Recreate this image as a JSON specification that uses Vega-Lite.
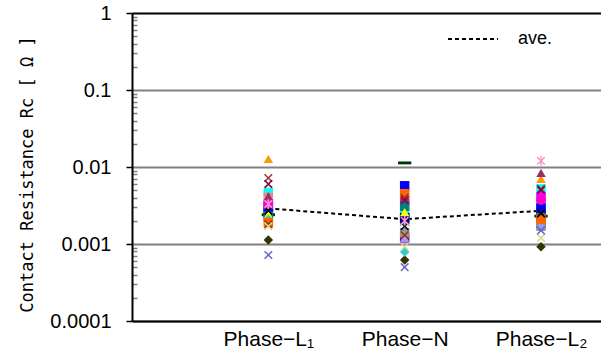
{
  "$schema": "https://vega.github.io/schema/vega-lite/v6.json",
  "width": 469,
  "height": 308,
  "autosize": {"type": "none"},
  "padding": {"left": 132, "top": 13, "right": 0, "bottom": 38},
  "background": "white",
  "config": {"view": {"stroke": null}},
  "datasets": {
    "avg": [
      {"phase": 1, "rc": 0.0029, "series": "ave."},
      {"phase": 2, "rc": 0.0021, "series": "ave."},
      {"phase": 3, "rc": 0.0027, "series": "ave."}
    ],
    "pts": [
      {"phase": 1, "specimen": "s01", "rc": 0.0127}, {"phase": 2, "specimen": "s01", "rc": 0.0046}, {"phase": 3, "specimen": "s01", "rc": 0.0070},
      {"phase": 1, "specimen": "s02", "rc": 0.0072}, {"phase": 2, "specimen": "s02", "rc": 0.0040}, {"phase": 3, "specimen": "s02", "rc": 0.0052},
      {"phase": 1, "specimen": "s03", "rc": 0.0060}, {"phase": 2, "specimen": "s03", "rc": 0.0037}, {"phase": 3, "specimen": "s03", "rc": 0.0050},
      {"phase": 1, "specimen": "s04", "rc": 0.0050}, {"phase": 2, "specimen": "s04", "rc": 0.0031}, {"phase": 3, "specimen": "s04", "rc": 0.0030},
      {"phase": 1, "specimen": "s05", "rc": 0.0046}, {"phase": 2, "specimen": "s05", "rc": 0.0025}, {"phase": 3, "specimen": "s05", "rc": 0.0052},
      {"phase": 1, "specimen": "s06", "rc": 0.0040}, {"phase": 2, "specimen": "s06", "rc": 0.0019}, {"phase": 3, "specimen": "s06", "rc": 0.0038},
      {"phase": 1, "specimen": "s07", "rc": 0.0037}, {"phase": 2, "specimen": "s07", "rc": 0.0016}, {"phase": 3, "specimen": "s07", "rc": 0.0032},
      {"phase": 1, "specimen": "s08", "rc": 0.0031}, {"phase": 2, "specimen": "s08", "rc": 0.0021}, {"phase": 3, "specimen": "s08", "rc": 0.0030},
      {"phase": 1, "specimen": "s09", "rc": 0.0028}, {"phase": 2, "specimen": "s09", "rc": 0.0024}, {"phase": 3, "specimen": "s09", "rc": 0.0017},
      {"phase": 1, "specimen": "s10", "rc": 0.0026}, {"phase": 2, "specimen": "s10", "rc": 0.0022}, {"phase": 3, "specimen": "s10", "rc": 0.0024},
      {"phase": 1, "specimen": "s11", "rc": 0.0025}, {"phase": 2, "specimen": "s11", "rc": 0.0012}, {"phase": 3, "specimen": "s11", "rc": 0.0018},
      {"phase": 1, "specimen": "s12", "rc": 0.0022}, {"phase": 2, "specimen": "s12", "rc": 0.0014}, {"phase": 3, "specimen": "s12", "rc": 0.0017},
      {"phase": 1, "specimen": "s13", "rc": 0.0018}, {"phase": 2, "specimen": "s13", "rc": 0.0013}, {"phase": 3, "specimen": "s13", "rc": 0.0025},
      {"phase": 1, "specimen": "s14", "rc": 0.0017}, {"phase": 2, "specimen": "s14", "rc": 0.00092}, {"phase": 3, "specimen": "s14", "rc": 0.0012},
      {"phase": 1, "specimen": "s15", "rc": 0.00113}, {"phase": 2, "specimen": "s15", "rc": 0.00062}, {"phase": 3, "specimen": "s15", "rc": 0.00092},
      {"phase": 1, "specimen": "s16", "rc": 0.00072}, {"phase": 2, "specimen": "s16", "rc": 0.00050}, {"phase": 3, "specimen": "s16", "rc": 0.0015},
      {"phase": 1, "specimen": "s17", "rc": 0.0024}, {"phase": 2, "specimen": "s17", "rc": 0.0113}, {"phase": 3, "specimen": "s17", "rc": 0.0023},
      {"phase": 1, "specimen": "s18", "rc": 0.0030}, {"phase": 2, "specimen": "s18", "rc": 0.0057}, {"phase": 3, "specimen": "s18", "rc": 0.0029},
      {"phase": 1, "specimen": "s19", "rc": 0.0033}, {"phase": 2, "specimen": "s19", "rc": 0.0037}, {"phase": 3, "specimen": "s19", "rc": 0.0041},
      {"phase": 1, "specimen": "s20", "rc": 0.0035}, {"phase": 2, "specimen": "s20", "rc": 0.0034}, {"phase": 3, "specimen": "s20", "rc": 0.0037},
      {"phase": 1, "specimen": "s21", "rc": 0.0023}, {"phase": 2, "specimen": "s21", "rc": 0.0031}, {"phase": 3, "specimen": "s21", "rc": 0.0022},
      {"phase": 1, "specimen": "s22", "rc": 0.0024}, {"phase": 2, "specimen": "s22", "rc": 0.0026}, {"phase": 3, "specimen": "s22", "rc": 0.0021},
      {"phase": 1, "specimen": "s23", "rc": 0.0027}, {"phase": 2, "specimen": "s23", "rc": 0.0017}, {"phase": 3, "specimen": "s23", "rc": 0.0025},
      {"phase": 1, "specimen": "s24", "rc": 0.0042}, {"phase": 2, "specimen": "s24", "rc": 0.0042}, {"phase": 3, "specimen": "s24", "rc": 0.0084},
      {"phase": 1, "specimen": "s25", "rc": 0.0033}, {"phase": 2, "specimen": "s25", "rc": 0.0020}, {"phase": 3, "specimen": "s25", "rc": 0.0120},
      {"phase": 1, "specimen": "s26", "rc": 0.0019}, {"phase": 2, "specimen": "s26", "rc": 0.0012}, {"phase": 3, "specimen": "s26", "rc": 0.0018},
      {"phase": 1, "specimen": "s27", "rc": 0.0021}, {"phase": 2, "specimen": "s27", "rc": 0.00079}, {"phase": 3, "specimen": "s27", "rc": 0.0020},
      {"phase": 1, "specimen": "s28", "rc": 0.0019}, {"phase": 2, "specimen": "s28", "rc": 0.0045}, {"phase": 3, "specimen": "s28", "rc": 0.0021}
    ]
  },
  "encoding": {
    "x": {
      "field": "phase",
      "type": "quantitative",
      "scale": {"domain": [0, 3.44], "nice": false, "zero": false},
      "axis": {
        "values": [1, 2, 3],
        "labelExpr": "datum.value == 1 ? 'Phase−L₁' : datum.value == 2 ? 'Phase−N' : 'Phase−L₂'",
        "ticks": false,
        "grid": false,
        "domainColor": "black",
        "domainWidth": 2,
        "labelFont": "Liberation Sans",
        "labelFontSize": 21,
        "labelColor": "black",
        "labelPadding": 7,
        "title": null
      }
    }
  },
  "layer": [
    {
      "data": {"name": "avg"},
      "mark": {"type": "line", "color": "black", "strokeWidth": 2},
      "encoding": {
        "y": {
          "field": "rc",
          "type": "quantitative",
          "scale": {"type": "log", "domain": [0.0001, 1], "nice": false},
          "axis": {
            "orient": "left",
            "values": [0.0002, 0.0003, 0.0004, 0.0005, 0.0006, 0.0007, 0.0008, 0.0009, 0.002, 0.003, 0.004, 0.005, 0.006, 0.007, 0.008, 0.009, 0.02, 0.03, 0.04, 0.05, 0.06, 0.07, 0.08, 0.09, 0.2, 0.3, 0.4, 0.5, 0.6, 0.7, 0.8, 0.9],
            "labels": false,
            "domain": false,
            "grid": false,
            "tickSize": -5,
            "tickColor": "#808080",
            "tickWidth": 1.5,
            "title": null
          }
        },
        "strokeDash": {
          "field": "series",
          "type": "nominal",
          "scale": {"range": [[4, 3]]},
          "legend": {
            "orient": "none",
            "legendX": 315,
            "legendY": 0,
            "title": null,
            "padding": 0,
            "symbolType": "stroke",
            "symbolSize": 2500,
            "symbolStrokeWidth": 2,
            "symbolStrokeColor": "black",
            "labelFont": "Liberation Sans",
            "labelFontSize": 18,
            "labelColor": "black",
            "labelOffset": 19
          }
        }
      }
    },
    {
      "data": {"name": "pts"},
      "transform": [{"filter": {"not": {"field": "specimen", "oneOf": ["s02", "s03", "s13", "s14", "s16", "s23", "s25"]}}}],
      "mark": {"type": "point", "filled": true, "size": 90, "opacity": 1},
      "encoding": {
        "y": {
          "field": "rc",
          "type": "quantitative",
          "scale": {"type": "log", "domain": [0.0001, 1], "nice": false},
          "axis": {
            "orient": "left",
            "values": [0.0001, 0.001, 0.01, 0.1, 1],
            "format": "~g",
            "grid": true,
            "gridColor": {"condition": {"test": "datum.value >= 1", "value": "black"}, "value": "#808080"},
            "gridWidth": 2,
            "tickSize": 6,
            "tickColor": "black",
            "tickWidth": 1.5,
            "domainColor": "black",
            "domainWidth": 2,
            "labelFont": "Liberation Sans",
            "labelFontSize": 20,
            "labelColor": "black",
            "labelPadding": 15,
            "title": "Contact Resistance  Rc [ Ω ]",
            "titleFont": "DejaVu Sans Mono",
            "titleFontSize": 17,
            "titleFontWeight": "normal",
            "titleColor": "black",
            "titlePadding": 13,
            "titleY": 161
          }
        },
        "color": {
          "field": "specimen",
          "type": "nominal",
          "legend": null,
          "scale": {
            "domain": ["s01","s02","s03","s04","s05","s06","s07","s08","s09","s10","s11","s12","s13","s14","s15","s16","s17","s18","s19","s20","s21","s22","s23","s24","s25","s26","s27","s28"],
            "range": ["#FF9900","#993333","#800040","#CCFFCC","#00FFFF","#FF8080","#CCFFFF","#0066CC","#00CC00","#000080","#800080","#969696","#993300","#D8D890","#333300","#6666CC","#003300","#0000FF","#FF00FF","#FF00CC","#008080","#FFFF00","#000000","#993366","#FF99CC","#9999FF","#33CCCC","#FF6600"]
          }
        },
        "shape": {
          "field": "specimen",
          "type": "nominal",
          "legend": null,
          "scale": {
            "domain": ["s01","s02","s03","s04","s05","s06","s07","s08","s09","s10","s11","s12","s13","s14","s15","s16","s17","s18","s19","s20","s21","s22","s23","s24","s25","s26","s27","s28"],
            "range": ["triangle-up","M-0.8,-0.8L0.8,0.8M-0.8,0.8L0.8,-0.8","M-0.8,-0.8L0.8,0.8M-0.8,0.8L0.8,-0.8","square","square","square","circle","square","diamond","square","square","square","M-0.8,-0.8L0.8,0.8M-0.8,0.8L0.8,-0.8","M-0.8,-0.8L0.8,0.8M-0.8,0.8L0.8,-0.8","diamond","M-0.8,-0.8L0.8,0.8M-0.8,0.8L0.8,-0.8","M-1.4,-0.3L1.4,-0.3L1.4,0.3L-1.4,0.3Z","square","square","circle","square","triangle-up","M-0.8,-0.8L0.8,0.8M-0.8,0.8L0.8,-0.8","triangle-up","M-0.8,-0.8L0.8,0.8M-0.8,0.8L0.8,-0.8M0,-1L0,1","triangle-up","diamond","square"]
          }
        }
      }
    },
    {
      "data": {"name": "pts"},
      "transform": [{"filter": {"field": "specimen", "oneOf": ["s02", "s03", "s13", "s14", "s16", "s23", "s25"]}}],
      "mark": {"type": "point", "filled": false, "size": 90, "strokeWidth": 1.5, "opacity": 1},
      "encoding": {
        "y": {
          "field": "rc",
          "type": "quantitative",
          "scale": {"type": "log", "domain": [0.0001, 1], "nice": false},
          "axis": null
        },
        "color": {
          "field": "specimen",
          "type": "nominal",
          "legend": null,
          "scale": {
            "domain": ["s01","s02","s03","s04","s05","s06","s07","s08","s09","s10","s11","s12","s13","s14","s15","s16","s17","s18","s19","s20","s21","s22","s23","s24","s25","s26","s27","s28"],
            "range": ["#FF9900","#993333","#800040","#CCFFCC","#00FFFF","#FF8080","#CCFFFF","#0066CC","#00CC00","#000080","#800080","#969696","#993300","#D8D890","#333300","#6666CC","#003300","#0000FF","#FF00FF","#FF00CC","#008080","#FFFF00","#000000","#993366","#FF99CC","#9999FF","#33CCCC","#FF6600"]
          }
        },
        "shape": {
          "field": "specimen",
          "type": "nominal",
          "legend": null,
          "scale": {
            "domain": ["s01","s02","s03","s04","s05","s06","s07","s08","s09","s10","s11","s12","s13","s14","s15","s16","s17","s18","s19","s20","s21","s22","s23","s24","s25","s26","s27","s28"],
            "range": ["triangle-up","M-0.8,-0.8L0.8,0.8M-0.8,0.8L0.8,-0.8","M-0.8,-0.8L0.8,0.8M-0.8,0.8L0.8,-0.8","square","square","square","circle","square","diamond","square","square","square","M-0.8,-0.8L0.8,0.8M-0.8,0.8L0.8,-0.8","M-0.8,-0.8L0.8,0.8M-0.8,0.8L0.8,-0.8","diamond","M-0.8,-0.8L0.8,0.8M-0.8,0.8L0.8,-0.8","M-1.4,-0.3L1.4,-0.3L1.4,0.3L-1.4,0.3Z","square","square","circle","square","triangle-up","M-0.8,-0.8L0.8,0.8M-0.8,0.8L0.8,-0.8","triangle-up","M-0.8,-0.8L0.8,0.8M-0.8,0.8L0.8,-0.8M0,-1L0,1","triangle-up","diamond","square"]
          }
        }
      }
    }
  ],
  "resolve": {"axis": {"y": "independent"}}
}
